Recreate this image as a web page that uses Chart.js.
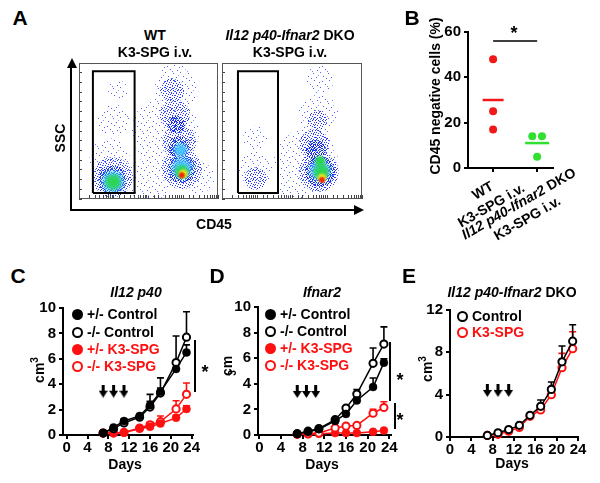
<!DOCTYPE html>
<html><head><meta charset="utf-8">
<script src="https://cdn.jsdelivr.net/npm/chart.js@4.4.1/dist/chart.umd.min.js"></script>
<style>
html,body{margin:0;padding:0;background:#fff;}
#root{position:relative;width:600px;height:483px;overflow:hidden;font-family:'Liberation Sans',Arial,sans-serif;font-weight:bold;color:#000;}
canvas{position:absolute;}
.t{position:absolute;white-space:nowrap;line-height:1;}
.ln{position:absolute;background:#000;}
</style></head><body><div id="root"></div>
<script>
// ---------------- DATA ----------------
// Panel B: % CD45-negative cells
const bWT = [48, 25, 17];
const bDKO = [14, 14, 5];
const bJitterDKO = [-0.11, 0.11, 0];
const bMeans = [30, 11];
const bSigLevel = 56;
const bYTicks = [0, 20, 40, 60];

// Panel C: Il12 p40
const cDays = [7, 9, 11, 14, 16, 18, 21, 23];
const cHetCtrl = [0.15, 0.6, 1.1, 1.5, 2.35, 3.4, 5.2, 6.5];
const cHetCtrlErr = [0.05, 0.1, 0.15, 0.1, 0.3, 0.3, 0.6, 0.6];
const cKoCtrl = [0.15, 0.5, 0.95, 1.4, 2.2, 3.3, 5.7, 7.7];
const cKoCtrlErr = [0.05, 0.1, 0.1, 0.15, 1.0, 1.2, 2.1, 2.0];
const cHetK3 = [0.15, 0.15, 0.2, 0.5, 0.65, 0.9, 1.35, 2.05];
const cHetK3Err = [0.05, 0.05, 0.05, 0.1, 0.1, 0.15, 0.2, 0.25];
const cKoK3 = [0.15, 0.15, 0.2, 0.55, 0.8, 1.05, 2.05, 3.2];
const cKoK3Err = [0.05, 0.05, 0.05, 0.1, 0.2, 0.45, 0.65, 0.9];
const cArrowDays = [7, 9, 11];
const cArrowLevel = 3.45;

// Panel D: Ifnar2
const dDays = [7, 9, 11, 14, 16, 18, 21, 23];
const dHetCtrl = [0.1, 0.25, 0.45, 1.1, 1.65, 2.7, 3.75, 5.65];
const dHetCtrlErr = [0.05, 0.05, 0.1, 0.1, 0.1, 0.2, 0.7, 0.3];
const dKoCtrl = [0.1, 0.3, 0.5, 1.2, 2.1, 3.2, 5.6, 7.1];
const dKoCtrlErr = [0.05, 0.05, 0.1, 0.1, 0.15, 0.35, 1.2, 1.35];
const dHetK3 = [0.05, 0.05, 0.1, 0.15, 0.15, 0.15, 0.25, 0.35];
const dHetK3Err = [0, 0, 0.02, 0.05, 0.05, 0.05, 0.05, 0.08];
const dKoK3 = [0.05, 0.1, 0.15, 0.55, 0.7, 0.75, 1.7, 2.15];
const dKoK3Err = [0, 0.05, 0.05, 0.1, 0.1, 0.1, 0.3, 0.45];
const dArrowDays = [7, 8.7, 10.4];
const dArrowLevel = 3.4;

// Panel E: Il12 p40-Ifnar2 DKO
const eDays = [7, 9, 11, 13, 15, 17, 19, 21, 23];
const eCtrl = [0.15, 0.4, 0.7, 1.1, 2.05, 2.9, 4.5, 7.1, 9.05];
const eCtrlErr = [0.05, 0.1, 0.1, 0.1, 0.15, 0.6, 0.7, 1.5, 1.55];
const eK3 = [0.15, 0.25, 0.55, 0.9, 1.95, 2.55, 4.0, 6.55, 8.35];
const eK3Err = [0.05, 0.05, 0.1, 0.1, 0.15, 0.3, 0.4, 1.35, 1.6];
const eArrowDays = [7, 9, 11];
const eArrowLevel = 4.4;

const xTicksDays = [0, 4, 8, 12, 16, 20, 24];
const yTicksCD = [0, 2, 4, 6, 8, 10];
const yTicksE = [0, 4, 8, 12];

// Panel A: flow density estimates (x,y in 0-100 plot units, r = spread)
const wtSparse = [{x:62,y:50,r:34},{x:70,y:80,r:22},{x:68,y:96,r:12},{x:50,y:14,r:22},{x:86,y:16,r:16},{x:22,y:30,r:20},{x:25,y:58,r:16},{x:28,y:80,r:10}];
const wtMedium = [{x:24,y:16,r:20},{x:74,y:22,r:20},{x:72,y:42,r:17},{x:69,y:62,r:15},{x:67,y:80,r:12}];
const wtDense = [{x:24,y:14,r:14},{x:74,y:22,r:14},{x:72,y:38,r:11},{x:70,y:55,r:9}];
const wtCyan = [{x:24.5,y:13,r:14},{x:74,y:23,r:13},{x:73,y:36,r:9}];
const wtGreen = [{x:24.5,y:12.5,r:10},{x:74,y:20,r:9}];
const wtYellow = [{x:75,y:18.5,r:6}];
const wtRed = [{x:74,y:17.5,r:4}];
const dkoSparse = [{x:23.6,y:22,r:18},{x:23.6,y:45,r:12},{x:60,y:28,r:32},{x:69,y:62,r:20},{x:70,y:88,r:14},{x:50,y:10,r:16}];
const dkoMedium = [{x:24,y:15,r:11},{x:69,y:20,r:20},{x:66,y:40,r:15},{x:68,y:58,r:10}];
const dkoDense = [{x:70,y:20,r:15},{x:67,y:36,r:10}];
const dkoCyan = [{x:70,y:21,r:13}];
const dkoGreen = [{x:71,y:20,r:10},{x:70,y:28,r:7}];
const dkoYellow = [{x:71.4,y:15.5,r:6}];
const dkoRed = [{x:71.4,y:14,r:4}];
const gateWTX = [10, 40, 40, 10, 10];
const gateWTY = [4.4, 4.4, 94, 94, 4.4];
const gateDKOX = [11.4, 40, 40, 11.4, 11.4];
const gateDKOY = [4.4, 4.4, 94, 94, 4.4];
const flowYTicks = [0,1,2,3,4,5,6,7,8,9,10,11,12,13,14];

// ---------------- HELPERS ----------------
const FONT = "'Liberation Sans', Arial, sans-serif";
Chart.defaults.font.family = FONT;
const root = document.getElementById('root');
const RED = '#ff1010', BLACK = '#000';
const tickFont = {family: FONT, size: 15, weight: 'bold'};

function mkCanvas(left, top, w, h) {
  const c = document.createElement('canvas');
  c.width = w; c.height = h;
  c.style.left = left + 'px'; c.style.top = top + 'px';
  c.style.width = w + 'px'; c.style.height = h + 'px';
  root.appendChild(c); return c;
}
function T(html, x, y, size, opts) {
  opts = opts || {};
  const d = document.createElement('div'); d.className = 't'; d.innerHTML = html;
  d.style.left = x + 'px'; d.style.top = y + 'px'; d.style.fontSize = size + 'px';
  const anchor = opts.anchor || 'translate(-50%,-50%)';
  d.style.transform = anchor + (opts.rot ? ' rotate(' + opts.rot + 'deg)' : '');
  if (opts.color) d.style.color = opts.color;
  if (opts.style) Object.assign(d.style, opts.style);
  root.appendChild(d); return d;
}
function L(x, y, w, h) {
  const d = document.createElement('div'); d.className = 'ln';
  Object.assign(d.style, {left: x + 'px', top: y + 'px', width: w + 'px', height: h + 'px'});
  root.appendChild(d);
}
function legendItem(x, y, color, filled, label) {
  const m = document.createElement('div');
  Object.assign(m.style, {position:'absolute', left:(x-5.5)+'px', top:(y-5.5)+'px', width:'11px', height:'11px',
    borderRadius:'50%', boxSizing:'border-box', background: filled ? color : '#fff', border: '2.5px solid ' + color});
  root.appendChild(m);
  T(label, x + 10, y, 14, {anchor: 'translate(0,-50%)', color: color});
}

const arrowImg = (() => {
  const c = document.createElement('canvas'); c.width = 9; c.height = 13;
  const g = c.getContext('2d'); g.fillStyle = '#000';
  g.fillRect(3, 0, 3, 7);
  g.beginPath(); g.moveTo(0, 6); g.lineTo(9, 6); g.lineTo(4.5, 13); g.closePath(); g.fill();
  return c;
})();

const errorBarPlugin = {
  id: 'errbars',
  beforeDatasetsDraw(chart) {
    const ctx = chart.ctx;
    chart.data.datasets.forEach((ds, i) => {
      if (!ds.errUp) return;
      const meta = chart.getDatasetMeta(i);
      const xs = chart.scales[meta.xAxisID], ys = chart.scales[meta.yAxisID];
      ctx.save(); ctx.strokeStyle = ds.borderColor; ctx.lineWidth = 1.6;
      ds.data.forEach((p, j) => {
        const e = ds.errUp[j]; if (!e) return;
        const x = xs.getPixelForValue(p.x), y0 = ys.getPixelForValue(p.y), y1 = ys.getPixelForValue(p.y + e);
        ctx.beginPath(); ctx.moveTo(x, y0); ctx.lineTo(x, y1);
        ctx.moveTo(x - 3.5, y1); ctx.lineTo(x + 3.5, y1); ctx.stroke();
      });
      ctx.restore();
    });
  }
};

function series(days, vals, errs, color, filled, order) {
  return {
    data: days.map((d, i) => ({x: d, y: vals[i]})), errUp: errs, showLine: true,
    borderColor: color, backgroundColor: filled ? color : '#fff',
    pointBackgroundColor: filled ? color : '#fff', pointBorderColor: color,
    pointBorderWidth: filled ? 0.5 : 2, pointRadius: filled ? 4 : 3.6, borderWidth: 1.5,
    clip: false, order: order
  };
}
function arrows(days, level) {
  return {data: days.map(d => ({x: d, y: level})), pointStyle: arrowImg, pointRadius: 6, showLine: false, clip: false, order: 0};
}
function baseOpts(pad) {
  return {
    responsive: false, animation: false, devicePixelRatio: 1, events: [],
    layout: {padding: pad, autoPadding: false},
    plugins: {legend: {display: false}, tooltip: {enabled: false}}
  };
}
function growthChart(box, pad, yW, xH, xMin, xMax, yMax, yTicks, datasets) {
  const cv = mkCanvas(box[0], box[1], box[2], box[3]);
  const o = baseOpts(pad);
  const axisCommon = {
    grid: {drawOnChartArea: false, tickLength: 4, color: '#000', lineWidth: 2},
    border: {color: '#000', width: 2},
  };
  o.scales = {
    x: Object.assign({type: 'linear', min: xMin, max: xMax,
      afterBuildTicks: s => { s.ticks = xTicksDays.map(v => ({value: v})); },
      afterFit: s => { s.height = xH; },
      ticks: {font: tickFont, color: '#000', padding: 0, maxRotation: 0, autoSkip: false}}, axisCommon),
    y: Object.assign({type: 'linear', min: 0, max: yMax,
      afterBuildTicks: s => { s.ticks = yTicks.map(v => ({value: v})); },
      afterFit: s => { s.width = yW; },
      ticks: {font: tickFont, color: '#000', padding: 3, autoSkip: false}}, axisCommon)
  };
  return new Chart(cv, {type: 'scatter', data: {datasets}, options: o, plugins: [errorBarPlugin]});
}

// ---------------- PANEL A (flow) ----------------
function speckle(dots, color, w, h) {
  const t = document.createElement('canvas'); t.width = w; t.height = h;
  const g = t.getContext('2d');
  dots.forEach(([a, b, c]) => { g.fillStyle = c || color; g.fillRect(a, b, 1, 1); });
  return g.createPattern(t, 'repeat');
}
const sparsePat = speckle([[2,1],[9,0],[5,4],[12,5],[0,7],[8,8],[3,11],[11,12],[6,13],[13,10,'#7fa0ff'],[14,2],[7,6,'#6a80ff']], '#4f60ff', 15, 15);
const mediumPat = speckle([[0,0],[3,0],[7,0],[1,2],[5,1],[9,2],[3,3],[6,3],[0,4],[8,4],[2,5],[5,5],[7,6],[0,7],[4,7],[9,7],[2,8],[6,8],[1,9],[8,9],[5,9,'#3fa0ff'],[4,1,'#5070ff']], '#2636f2', 10, 10);
const densePat = speckle([[0,0],[2,0],[5,0],[7,1],[1,1],[3,2],[6,2],[0,3],[4,3],[2,4],[5,4],[7,4],[1,5],[3,6],[6,6],[0,6],[4,7],[2,7],[7,7],[3,4],[4,5,'#30b0ff'],[6,5,'#30b0ff'],[1,3,'#2080ff'],[5,2,'#30c0ff']], '#1a22dd', 8, 8);
function radial(rgb) {
  return (c) => {
    const ch = c.chart, raw = c.raw;
    const solid = 'rgba(' + rgb + ',0.8)';
    if (!raw || !ch.scales || !ch.scales.x || !ch.chartArea) return solid;
    const x = ch.scales.x.getPixelForValue(raw.x), y = ch.scales.y.getPixelForValue(raw.y);
    if (!isFinite(x) || !isFinite(y) || !(raw.r > 0)) return solid;
    const g = ch.ctx.createRadialGradient(x, y, 0, x, y, raw.r);
    g.addColorStop(0, 'rgba(' + rgb + ',1)');
    g.addColorStop(0.5, 'rgba(' + rgb + ',0.8)');
    g.addColorStop(1, 'rgba(' + rgb + ',0)');
    return g;
  };
}
const framePlugin = {
  id: 'frame',
  afterDatasetsDraw(chart) {
    const a = chart.chartArea, ctx = chart.ctx;
    ctx.save(); ctx.strokeStyle = '#555'; ctx.lineWidth = 1;
    ctx.strokeRect(a.left + 0.5, a.top + 0.5, a.right - a.left - 1, a.bottom - a.top - 1);
    ctx.restore();
  }
};
function flowChart(box, pad, yW, xH, layers, gx, gy) {
  const cv = mkCanvas(box[0], box[1], box[2], box[3]);
  const o = baseOpts(pad);
  o.scales = {
    x: {type: 'linear', min: 0, max: 100, display: false},
    y: {type: 'linear', min: 0, max: 100, display: false},
    xl: {type: 'logarithmic', position: 'bottom', min: 10, max: 100000,
      ticks: {display: false, autoSkip: false}, border: {display: false},
      grid: {drawOnChartArea: false, tickLength: -4, color: '#444', lineWidth: 1},
      afterFit: s => { s.height = xH; }},
    yl: {type: 'linear', position: 'left', min: 0, max: 14,
      afterBuildTicks: s => { s.ticks = flowYTicks.map(v => ({value: v})); },
      ticks: {display: false}, border: {display: false},
      grid: {drawOnChartArea: false, tickLength: -3, color: '#444', lineWidth: 1},
      afterFit: s => { s.width = yW; }}
  };
  const styles = [
    {bg: sparsePat, order: 9}, {bg: mediumPat, order: 8}, {bg: densePat, order: 7},
    {bg: radial('70,200,255'), order: 5}, {bg: radial('40,215,70'), order: 4},
    {bg: radial('250,225,20'), order: 3}, {bg: radial('240,25,10'), order: 2}
  ];
  const ds = layers.map((pts, i) => ({type: 'bubble', data: pts, backgroundColor: styles[i].bg,
    borderWidth: 0, order: styles[i].order, xAxisID: 'x', yAxisID: 'y'}));
  ds.push({type: 'line', data: gx.map((v, i) => ({x: v, y: gy[i]})), borderColor: '#000', borderWidth: 2,
    pointRadius: 0, fill: false, order: 1, xAxisID: 'x', yAxisID: 'y', clip: false});
  return new Chart(cv, {type: 'bubble', data: {datasets: ds}, options: o, plugins: [framePlugin]});
}
try {
flowChart([60, 50, 165, 160], {left: 0, right: 7, top: 13, bottom: 0}, 19, 11,
  [wtSparse, wtMedium, wtDense, wtCyan, wtGreen, wtYellow, wtRed], gateWTX, gateWTY);
flowChart([215, 50, 155, 160], {left: 0, right: 8, top: 13, bottom: 0}, 7, 11,
  [dkoSparse, dkoMedium, dkoDense, dkoCyan, dkoGreen, dkoYellow, dkoRed], gateDKOX, gateDKOY);
} catch (err) { console.error(err); }

// axis arrows
L(70, 62, 2, 149);
(function(){ const d = document.createElement('div');
  Object.assign(d.style, {position:'absolute', left:'66.5px', top:'58px', width:0, height:0,
    borderLeft:'5px solid transparent', borderRight:'5px solid transparent', borderBottom:'10px solid #000'});
  root.appendChild(d);
  const e = document.createElement('div');
  Object.assign(e.style, {position:'absolute', left:'354px', top:'204.5px', width:0, height:0,
    borderTop:'5px solid transparent', borderBottom:'5px solid transparent', borderLeft:'10px solid #000'});
  root.appendChild(e);
})();
L(70, 209, 286, 2);

T('A', 20, 17, 21);
T('WT', 155, 35, 14);
T('K3-SPG i.v.', 155, 52, 14);
T('<i>Il12 p40-Ifnar2</i> DKO', 290, 35, 14);
T('K3-SPG i.v.', 290, 52, 14);
T('SSC', 60, 138, 14, {rot: -90});
T('CD45', 214, 224, 14);

// ---------------- PANEL B ----------------
(function(){
  const cv = mkCanvas(400, 20, 200, 160);
  const o = baseOpts({left: 0, right: 47, top: 12, bottom: 0});
  const axisCommon = {grid: {drawOnChartArea: false, tickLength: 4, color: '#000', lineWidth: 2}, border: {color: '#000', width: 2}};
  o.scales = {
    x: Object.assign({type: 'linear', min: 0.43, max: 2.36,
      afterBuildTicks: s => { s.ticks = [1, 2].map(v => ({value: v})); },
      afterFit: s => { s.height = 12; }, ticks: {display: false}}, axisCommon),
    y: Object.assign({type: 'linear', min: 0, max: 60,
      afterBuildTicks: s => { s.ticks = bYTicks.map(v => ({value: v})); },
      afterFit: s => { s.width = 68; },
      ticks: {font: tickFont, color: '#000', padding: 3}}, axisCommon)
  };
  const ds = [
    {data: bWT.map(v => ({x: 1, y: v})), pointRadius: 4, pointBackgroundColor: '#f01818', pointBorderWidth: 0, showLine: false, clip: false},
    {data: bDKO.map((v, i) => ({x: 2 + bJitterDKO[i], y: v})), pointRadius: 4, pointBackgroundColor: '#30e030', pointBorderWidth: 0, showLine: false, clip: false},
    {data: [{x: 1, y: bMeans[0]}], pointStyle: 'line', pointRadius: 10.5, pointBorderColor: '#f01818', pointBorderWidth: 2.5, showLine: false, clip: false},
    {data: [{x: 2, y: bMeans[1]}], pointStyle: 'line', pointRadius: 12, pointBorderColor: '#30e030', pointBorderWidth: 2.5, showLine: false, clip: false},
    {data: [{x: 1, y: bSigLevel}, {x: 2, y: bSigLevel}], showLine: true, borderColor: '#000', borderWidth: 1.5, pointRadius: 0, clip: false}
  ];
  new Chart(cv, {type: 'scatter', data: {datasets: ds}, options: o});
})();
T('B', 412, 17, 21);
T('CD45 negative cells (%)', 435, 96, 14, {rot: -90});
T('*', 514, 33, 18);
T('WT<br>K3-SPG i.v.', 487, 198, 14, {rot: -30, style: {textAlign: 'center', lineHeight: '17px'}});
T('<i>Il12 p40-Ifnar2</i> DKO<br>K3-SPG i.v.', 523, 211, 14, {rot: -30, style: {textAlign: 'center', lineHeight: '17px'}});

// ---------------- PANEL C ----------------
growthChart([0, 295, 215, 180], {left: 0, right: 22, top: 13, bottom: 0}, 63, 40, -0.71, 24.25, 10, yTicksCD, [
  arrows(cArrowDays, cArrowLevel),
  series(cDays, cKoK3, cKoK3Err, RED, false, 4),
  series(cDays, cHetK3, cHetK3Err, RED, true, 3),
  series(cDays, cKoCtrl, cKoCtrlErr, BLACK, false, 2),
  series(cDays, cHetCtrl, cHetCtrlErr, BLACK, true, 1)
]);
T('C', 18, 275, 21);
T('<i>Il12 p40</i>', 136, 292, 14);
T('cm<sup style="font-size:10px">3</sup>', 38, 370, 14, {rot: -90});
T('Days', 125, 464, 14);
legendItem(77, 314, BLACK, true, '+/- Control');
legendItem(77, 332, BLACK, false, '-/- Control');
legendItem(77, 349, RED, true, '+/- K3-SPG');
legendItem(77, 366, RED, false, '-/- K3-SPG');
L(194, 340, 2, 52);
T('*', 205, 372, 18);

// ---------------- PANEL D ----------------
growthChart([200, 295, 210, 180], {left: 0, right: 19, top: 11, bottom: 0}, 58, 40, -0.24, 24.31, 10, yTicksCD, [
  arrows(dArrowDays, dArrowLevel),
  series(dDays, dHetK3, dHetK3Err, RED, true, 4),
  series(dDays, dKoK3, dKoK3Err, RED, false, 3),
  series(dDays, dKoCtrl, dKoCtrlErr, BLACK, false, 2),
  series(dDays, dHetCtrl, dHetCtrlErr, BLACK, true, 1)
]);
T('D', 217, 275, 21);
T('<i>Ifnar2</i>', 322, 292, 14);
T('cm', 227, 366, 14, {rot: -90});
T('3', 233, 373, 10, {rot: -90});
T('Days', 322, 464, 14);
legendItem(270, 314, BLACK, true, '+/- Control');
legendItem(270, 331, BLACK, false, '-/- Control');
legendItem(270, 348, RED, true, '+/- K3-SPG');
legendItem(270, 365, RED, false, '-/- K3-SPG');
L(389, 342, 2, 59);
L(394, 403, 2, 26);
T('*', 400, 380, 18);
T('*', 400, 420, 18);

// ---------------- PANEL E ----------------
growthChart([390, 295, 210, 182], {left: 0, right: 22, top: 15, bottom: 0}, 60, 40, 0, 24, 12, yTicksE, [
  arrows(eArrowDays, eArrowLevel),
  series(eDays, eK3, eK3Err, RED, false, 2),
  series(eDays, eCtrl, eCtrlErr, BLACK, false, 1)
]);
T('E', 409, 275, 21);
T('<i>Il12 p40-Ifnar2</i> DKO', 512, 292, 14);
T('cm<sup style="font-size:10px">3</sup>', 426, 369, 14, {rot: -90});
T('Days', 512, 463, 14);
legendItem(462, 316, BLACK, false, 'Control');
legendItem(462, 332, RED, false, 'K3-SPG');
</script></body></html>
